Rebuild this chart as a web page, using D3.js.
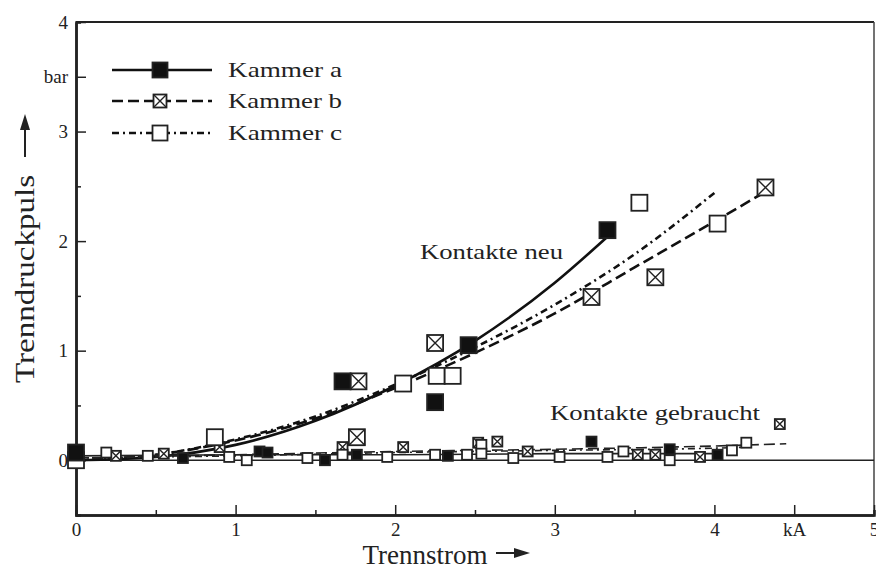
<!DOCTYPE html>
<html>
<head>
<meta charset="utf-8">
<script src="https://cdn.jsdelivr.net/npm/d3@7"></script>
<style>
  body { margin: 0; background: #fff; }
  text { font-family: "Liberation Serif", "Times New Roman", serif; fill: #222; }
</style>
</head>
<body>
<svg width="876" height="571"></svg>
<script>
// tick labels
let xTicks = [0, 1, 2, 3, 4, 4.5, 5]
let xTickLabels = ["0", "1", "2", "3", "4", "kA", "5"]
let yTicks = [0, 1, 2, 3, 3.5, 4]
let yTickLabels = ["0", "1", "2", "3", "bar", "4"]

// Kontakte neu - measured points
let aNeuX = [0, 1.67, 2.25, 2.46, 3.33]
let aNeuY = [0.07, 0.72, 0.53, 1.05, 2.10]
let bNeuX = [1.77, 1.76, 2.25, 3.23, 3.63, 4.32]
let bNeuY = [0.72, 0.21, 1.07, 1.49, 1.67, 2.49]
let cNeuX = [0, 0.87, 2.05, 2.26, 2.36, 3.53, 4.02]
let cNeuY = [0, 0.21, 0.70, 0.77, 0.77, 2.35, 2.16]

// Kontakte neu - fitted curves
let aFitX = [0, 0.5, 1, 1.5, 2, 2.5, 3, 3.33]
let aFitY = [0, 0.03, 0.14, 0.36, 0.68, 1.09, 1.62, 2.04]
let bFitX = [0, 0.5, 1, 1.5, 2, 2.5, 3, 3.5, 4, 4.32]
let bFitY = [0, 0.05, 0.18, 0.38, 0.66, 0.98, 1.34, 1.76, 2.18, 2.45]
let cFitX = [0, 0.5, 1, 1.5, 2, 2.5, 3, 3.5, 4.0]
let cFitY = [0, 0.05, 0.19, 0.40, 0.69, 1.03, 1.42, 1.88, 2.44]

// Kontakte gebraucht - measured points (small markers)
let aUsedX = [0.0, 0.67, 1.15, 1.2, 1.56, 1.76, 2.33, 3.23, 3.72, 4.02]
let aUsedY = [0.06, 0.02, 0.08, 0.07, 0.0, 0.05, 0.04, 0.17, 0.1, 0.05]
let bUsedX = [0.25, 0.55, 0.9, 1.67, 2.05, 2.52, 2.64, 2.83, 3.52, 3.63, 3.91, 4.41]
let bUsedY = [0.04, 0.06, 0.12, 0.12, 0.12, 0.16, 0.17, 0.08, 0.05, 0.05, 0.03, 0.33]
let cUsedX = [0.0, 0.19, 0.45, 0.96, 1.07, 1.45, 1.67, 1.95, 2.25, 2.45, 2.54, 2.54, 2.74, 3.03, 3.33, 3.43, 3.72, 4.11, 4.2]
let cUsedY = [0.0, 0.07, 0.04, 0.03, 0.0, 0.02, 0.05, 0.03, 0.05, 0.05, 0.14, 0.06, 0.02, 0.03, 0.03, 0.08, 0.0, 0.09, 0.16]

// Kontakte gebraucht - fitted lines
let aUsedFitX = [0, 1, 2, 3, 4.05]
let aUsedFitY = [0.04, 0.05, 0.05, 0.06, 0.06]
let bUsedFitX = [0, 1, 2, 3, 4, 4.45]
let bUsedFitY = [0.02, 0.05, 0.08, 0.10, 0.13, 0.15]
let cUsedFitX = [0, 1, 2, 3, 4, 4.2]
let cUsedFitY = [0.02, 0.04, 0.07, 0.09, 0.11, 0.12]

let series = ["Kammer a", "Kammer b", "Kammer c"]

var svg = d3.select("svg")

var x = d3.scaleLinear().domain([0, 5]).range([76, 874])
var y = d3.scaleLinear().domain([-0.5, 4]).range([515, 22])

var dashes = ["none", "11,5", "7,4,2,4"]
var shapes = ["filled", "crossed", "open"]

function zip(xs, ys) {
  return xs.map((v, i) => [v, ys[i]])
}

var line = d3.line()
  .x(d => x(d[0]))
  .y(d => y(d[1]))
  .curve(d3.curveMonotoneX)

// frame top / right
svg.append("line").attr("x1", x(0)).attr("x2", x(5)).attr("y1", y(4)).attr("y2", y(4))
  .attr("stroke", "#222").attr("stroke-width", 2)
svg.append("line").attr("x1", x(5)).attr("x2", x(5)).attr("y1", y(4)).attr("y2", y(-0.5))
  .attr("stroke", "#444").attr("stroke-width", 1.5)

// zero line
svg.append("line").attr("x1", x(0)).attr("x2", x(5)).attr("y1", y(0)).attr("y2", y(0))
  .attr("stroke", "#222").attr("stroke-width", 1.5)

// axes
var xAxis = svg.append("g").attr("transform", "translate(0," + y(-0.5) + ")")
  .call(d3.axisBottom(x).tickValues(xTicks).tickSizeInner(-10).tickSizeOuter(0).tickPadding(6)
    .tickFormat((d, i) => xTickLabels[i]))
svg.append("g").attr("transform", "translate(0," + y(-0.5) + ")")
  .call(d3.axisBottom(x).tickValues([0.5, 1.5, 2.5, 3.5]).tickSize(-5).tickFormat(""))
var yAxis = svg.append("g").attr("transform", "translate(" + x(0) + ",0)")
  .call(d3.axisLeft(y).tickValues(yTicks).tickSizeInner(-10).tickSizeOuter(0).tickPadding(8)
    .tickFormat((d, i) => yTickLabels[i]))
svg.append("g").attr("transform", "translate(" + x(0) + ",0)")
  .call(d3.axisLeft(y).tickValues([-0.5, 0.5, 1.5, 2.5]).tickSize(-5).tickFormat(""))

svg.selectAll(".domain").attr("stroke", "#222").attr("stroke-width", 2.5)
svg.selectAll(".tick line").attr("stroke", "#222").attr("stroke-width", 1.5)
svg.selectAll(".tick text").style("font-size", "19px").style("font-family", "Liberation Serif").attr("fill", "#222")
xAxis.selectAll(".tick text").attr("dy", "0.8em")

// fitted curves
var fits = [zip(aFitX, aFitY), zip(bFitX, bFitY), zip(cFitX, cFitY)]
var usedFits = [zip(aUsedFitX, aUsedFitY), zip(bUsedFitX, bUsedFitY), zip(cUsedFitX, cUsedFitY)]

fits.forEach((f, i) => {
  svg.append("path").attr("d", line(f)).attr("fill", "none")
    .attr("stroke", "#111").attr("stroke-width", 2.6).attr("stroke-dasharray", dashes[i])
})
usedFits.forEach((f, i) => {
  svg.append("path").attr("d", line(f)).attr("fill", "none")
    .attr("stroke", "#222").attr("stroke-width", 1.6).attr("stroke-dasharray", dashes[i])
})

// markers
function marker(g, shape, s) {
  g.append("rect").attr("x", -s / 2).attr("y", -s / 2).attr("width", s).attr("height", s)
    .attr("fill", shape == "filled" ? "#111" : "#fff").attr("stroke", "#222").attr("stroke-width", 1.8)
  if (shape == "crossed") {
    g.append("path").attr("d", "M" + (-s / 2) + "," + (-s / 2) + "L" + (s / 2) + "," + (s / 2) +
      "M" + (s / 2) + "," + (-s / 2) + "L" + (-s / 2) + "," + (s / 2))
      .attr("stroke", "#222").attr("stroke-width", 1.4)
  }
}

function drawPoints(xs, ys, shape, s) {
  xs.forEach((v, i) => {
    var g = svg.append("g").attr("transform", "translate(" + x(v) + "," + y(ys[i]) + ")")
    marker(g, shape, s)
  })
}

drawPoints(aUsedX, aUsedY, "filled", 10)
drawPoints(bUsedX, bUsedY, "crossed", 10)
drawPoints(cUsedX, cUsedY, "open", 10)

drawPoints(cNeuX, cNeuY, "open", 16)
drawPoints(bNeuX, bNeuY, "crossed", 16)
drawPoints(aNeuX, aNeuY, "filled", 16)

// legend
var legendY = [70, 101, 133]
series.forEach((name, i) => {
  svg.append("line").attr("x1", 112).attr("x2", 212).attr("y1", legendY[i]).attr("y2", legendY[i])
    .attr("stroke", "#111").attr("stroke-width", 2.6).attr("stroke-dasharray", dashes[i])
  var g = svg.append("g").attr("transform", "translate(160," + legendY[i] + ")")
  marker(g, shapes[i], i == 1 ? 13 : 15)
  svg.append("text").attr("x", 228).attr("y", legendY[i] + 7).style("font-size", "21px")
    .attr("textLength", 114).attr("lengthAdjust", "spacingAndGlyphs").text(name)
})

// annotations
svg.append("text").attr("x", 420).attr("y", 259).style("font-size", "22px")
  .attr("textLength", 143).attr("lengthAdjust", "spacingAndGlyphs").text("Kontakte neu")
svg.append("text").attr("x", 550).attr("y", 420).style("font-size", "22px")
  .attr("textLength", 210).attr("lengthAdjust", "spacingAndGlyphs").text("Kontakte gebraucht")

// axis titles
svg.append("text").attr("x", 425).attr("y", 564).attr("text-anchor", "middle")
  .style("font-size", "27px").text("Trennstrom")
svg.append("line").attr("x1", 496).attr("x2", 516).attr("y1", 553).attr("y2", 553)
  .attr("stroke", "#222").attr("stroke-width", 2)
svg.append("path").attr("d", "M514,548L530,553L514,558Z").attr("fill", "#222")

svg.append("text").attr("transform", "translate(34,279) rotate(-90)").attr("text-anchor", "middle")
  .style("font-size", "27px").attr("textLength", 208).attr("lengthAdjust", "spacingAndGlyphs")
  .text("Trenndruckpuls")
svg.append("line").attr("x1", 25).attr("x2", 25).attr("y1", 157).attr("y2", 128)
  .attr("stroke", "#222").attr("stroke-width", 2)
svg.append("path").attr("d", "M20,130L25,114L30,130Z").attr("fill", "#222")
</script>
</body>
</html>
